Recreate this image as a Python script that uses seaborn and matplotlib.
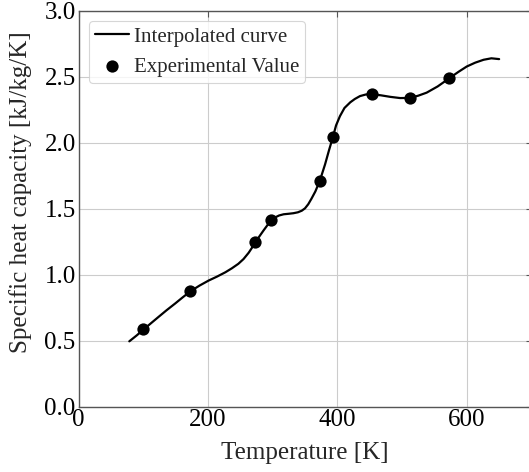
import matplotlib
matplotlib.use("Agg")
import matplotlib.pyplot as plt
import seaborn as sns
import pandas as pd

# Experimental values
exp_T = [100, 173, 273, 298, 373, 393, 453, 513, 573]
exp_cp = [0.585, 0.874, 1.244, 1.413, 1.712, 2.04, 2.366, 2.338, 2.487]

# Interpolated curve
curve_T = [78.5, 90, 100.6, 112, 123.7, 136, 149.5, 161, 173, 187, 201, 214, 227, 237,
           247, 255, 263, 268, 273, 280, 286, 292, 299, 305, 310, 317, 325, 332, 339,
           345, 350, 355, 360, 366, 373, 381, 387, 393, 398, 404, 411, 420, 427, 435,
           444, 453, 467, 482, 497, 512, 525, 538, 555, 573, 587, 600, 613, 626, 638, 650]
curve_cp = [0.495, 0.54, 0.585, 0.632, 0.68, 0.73, 0.782, 0.828, 0.874, 0.917, 0.955,
            0.985, 1.018, 1.048, 1.082, 1.118, 1.166, 1.203, 1.244, 1.293, 1.335, 1.375,
            1.413, 1.436, 1.448, 1.457, 1.461, 1.465, 1.472, 1.484, 1.502, 1.533, 1.575,
            1.63, 1.712, 1.835, 1.94, 2.04, 2.13, 2.2, 2.262, 2.305, 2.33, 2.352, 2.364,
            2.366, 2.358, 2.346, 2.337, 2.338, 2.355, 2.378, 2.425, 2.487, 2.535, 2.576,
            2.605, 2.627, 2.638, 2.632]

x_ticks = [0, 200, 400, 600]
y_ticks = [0.0, 0.5, 1.0, 1.5, 2.0, 2.5, 3.0]

sns.set_style("whitegrid")
plt.rcParams['font.family'] = ['Liberation Serif', 'DejaVu Serif']
plt.rcParams['lines.solid_capstyle'] = 'round'

fig = plt.figure(figsize=(5.29, 4.72), dpi=100)
ax = fig.add_axes([78.5 / 529, (472 - 406.7) / 472, (531.5 - 78.5) / 529, (406.7 - 10.5) / 472])

df_curve = pd.DataFrame({"T": curve_T, "cp": curve_cp})
df_exp = pd.DataFrame({"T": exp_T, "cp": exp_cp})

sns.lineplot(data=df_curve, x="T", y="cp", ax=ax, color="black", linewidth=1.6,
             label="Interpolated curve", sort=False)
sns.scatterplot(data=df_exp, x="T", y="cp", ax=ax, color="black", s=78,
                edgecolor="black", linewidth=0, label="Experimental Value", zorder=3)

ax.set_xlim(0, 700)
ax.set_ylim(0, 3.0)
ax.set_xticks(x_ticks)
ax.set_yticks(y_ticks)
ax.set_yticklabels([f"{v:.1f}" for v in y_ticks])
ax.set_xlabel("Temperature [K]", fontsize=18, labelpad=7.5)
ax.set_ylabel("Specific heat capacity [kJ/kg/K]", fontsize=18)
ax.yaxis.set_label_coords(-0.102, 0.542)
ax.tick_params(axis="both", which="both", direction="in", length=4, width=0.8,
               labelsize=18, top=True, right=True, colors="#555555", labelcolor="black", pad=2)
ax.grid(True, color="#cccccc", linewidth=0.8)
for s in ax.spines.values():
    s.set_color("#555555")
    s.set_linewidth(1.0)

leg = ax.legend(loc="upper left", fontsize=15, frameon=True, edgecolor="#cccccc",
                fancybox=True, handlelength=1.6, borderpad=0.3, labelspacing=0.49,
                handletextpad=0.25, borderaxespad=0.5)
leg.get_frame().set_linewidth(0.8)

fig.savefig("out.png", dpi=100)
